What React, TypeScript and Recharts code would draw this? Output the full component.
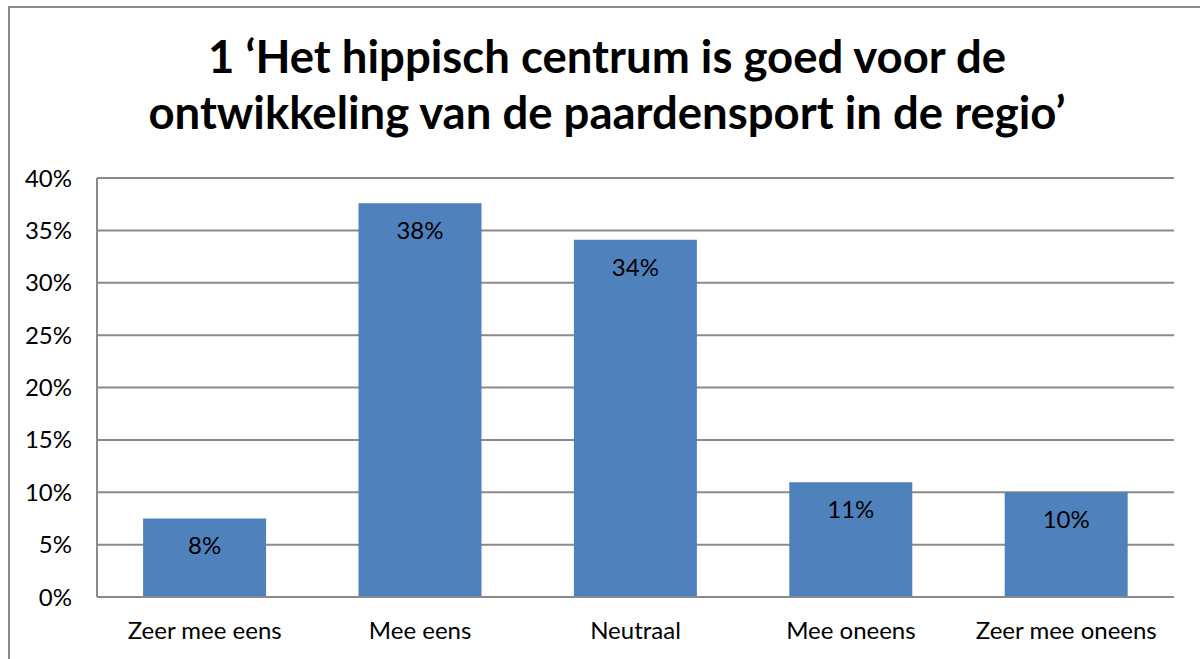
import React from 'react';
import { BarChart, Bar, XAxis, YAxis, CartesianGrid, LabelList } from 'recharts';

const categories = ['Zeer mee eens', 'Mee eens', 'Neutraal', 'Mee oneens', 'Zeer mee oneens'];
const shares = [7.5, 37.6, 34.1, 10.95, 10.0];
const shareLabels = ['8%', '38%', '34%', '11%', '10%'];
const yTicks = [0, 5, 10, 15, 20, 25, 30, 35, 40];

const data = categories.map((name, i) => ({ name, value: shares[i], label: shareLabels[i] }));

const FONT = 'Lato, "Open Sans", sans-serif';

export default function App() {
  return (
    <div style={{ position: 'absolute', left: 0, top: 0, width: 1200, height: 659, overflow: 'hidden', background: '#fff', fontFamily: FONT }}>
      <div style={{ position: 'absolute', left: 8, top: 6, width: 1300, height: 800, borderLeft: '2px solid #898989', borderTop: '2px solid #898989' }} />
      <div style={{ position: 'absolute', left: 0, width: 1214, top: 28, textAlign: 'center', fontWeight: 700, fontSize: 45.5, lineHeight: '56px', color: '#000' }}>
        1 ‘Het hippisch centrum is goed voor de<br />ontwikkeling van de paardensport in de regio’
      </div>
      <div style={{ position: 'absolute', left: 0, top: 0 }}>
        <BarChart width={1200} height={659} data={data} margin={{ top: 178, right: 26, bottom: 0, left: 0 }} barCategoryGap="21.4%">
          <CartesianGrid vertical={false} stroke="#8a8a8a" strokeWidth={2} />
          <XAxis
            dataKey="name"
            axisLine={{ stroke: '#8a8a8a', strokeWidth: 2 }}
            tickLine={false}
            tickSize={0}
            tickMargin={25}
            tick={{ fill: '#000', fontSize: 24, fontFamily: FONT }}
            height={62}
          />
          <YAxis
            domain={[0, 40]}
            ticks={yTicks}
            interval={0}
            width={97}
            axisLine={{ stroke: '#8a8a8a', strokeWidth: 2 }}
            tickLine={false}
            tickSize={0}
            tickMargin={25}
            tickFormatter={(v: number) => `${v}%`}
            tick={{ fill: '#000', fontSize: 24, fontFamily: FONT }}
          />
          <Bar dataKey="value" fill="#4F81BD" isAnimationActive={false}>
            <LabelList dataKey="label" position="insideTop" offset={19} fill="#000" fontSize={24} fontFamily={FONT} />
          </Bar>
        </BarChart>
      </div>
    </div>
  );
}
